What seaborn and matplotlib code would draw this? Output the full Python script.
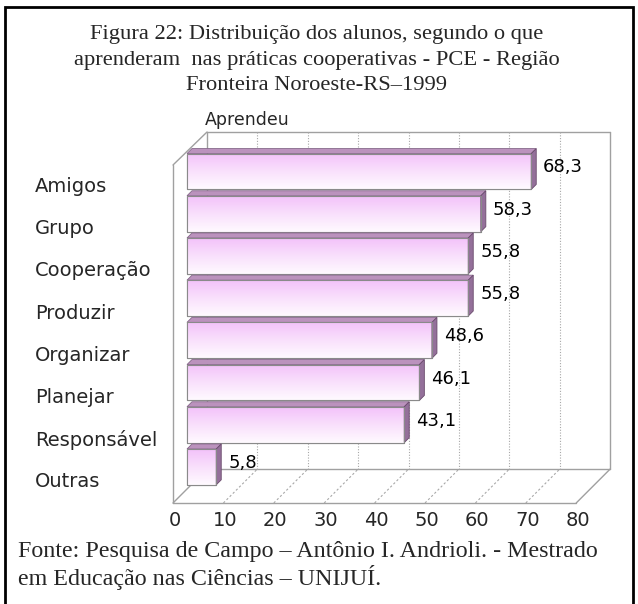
import seaborn as sns
import matplotlib.pyplot as plt
import numpy as np
from matplotlib.patches import Polygon, Rectangle
from matplotlib.colors import LinearSegmentedColormap

# Data
categories = ['Amigos', 'Grupo', 'Cooperação', 'Produzir',
              'Organizar', 'Planejar', 'Responsável', 'Outras']
values = [68.3, 58.3, 55.8, 55.8, 48.6, 46.1, 43.1, 5.8]
value_labels = ['68,3', '58,3', '55,8', '55,8', '48,6', '46,1', '43,1', '5,8']
ticks = [0, 10, 20, 30, 40, 50, 60, 70, 80]

title_lines = ['Figura 22: Distribuição dos alunos, segundo o que',
               'aprenderam  nas práticas cooperativas - PCE - Região',
               'Fronteira Noroeste-RS\u20131999']
footer_lines = ['Fonte: Pesquisa de Campo \u2013 Antônio I. Andrioli. - Mestrado',
                'em Educação nas Ciências \u2013 UNIJUÍ.']

W, H = 638, 604
sns.set_style('white')
plt.rcParams['font.family'] = ['DejaVu Sans']

fig = plt.figure(figsize=(W / 100, H / 100), dpi=100)
ax = fig.add_axes([0, 0, 1, 1])

# pixel <-> data mapping (bar front plane: 0 at px 187, 5.04 px per unit, 42.2 px per bar)
X0, SX = 187.0, 5.04
Y0, SY = 171.5, 42.2


def px2x(p):
    return (p - X0) / SX


def px2y(p):
    return (p - Y0) / SY


# plane offsets (in data units)
front_dx = -14 / SX
back_dx = 20 / SX
floor_front = px2y(503)
floor_back = px2y(469)
top_front = px2y(165)
top_back = px2y(132)

wall = '#a0a0a0'
grid = '#a8a8a8'

# box: back wall, left wall, floor
box_lines = [
    ((back_dx, back_dx + 80), (top_back, top_back)),
    ((back_dx + 80, back_dx + 80), (top_back, floor_back)),
    ((back_dx, back_dx + 80), (floor_back, floor_back)),
    ((back_dx, back_dx), (top_back, floor_back)),
    ((front_dx, front_dx), (top_front, floor_front)),
    ((front_dx, back_dx), (top_front, top_back)),
    ((front_dx, back_dx), (floor_front, floor_back)),
    ((front_dx, front_dx + 80), (floor_front, floor_front)),
    ((front_dx + 80, back_dx + 80), (floor_front, floor_back)),
]
for xs, ys in box_lines:
    ax.plot(xs, ys, color=wall, lw=1, zorder=1)

for t in ticks[1:-1]:
    ax.plot([t + back_dx] * 2, [top_back, floor_back], color=grid, lw=0.8,
            ls=(0, (1, 1.5)), zorder=1)
    ax.plot([t + front_dx, t + back_dx], [floor_front, floor_back], color=grid,
            lw=0.8, ls=(0, (2, 2)), zorder=1)

# bars (front faces)
sns.barplot(x=values, y=categories, orient='h', width=0.85, color='#f6d0f8',
            edgecolor='#8a8a8a', linewidth=0.8, ax=ax, zorder=3)

grad_cmap = LinearSegmentedColormap.from_list(
    'pinkgrad', ['#f3c2fa', '#f9e0fc', '#fffaff'])
grad = np.linspace(0, 1, 64).reshape(-1, 1)
ddx, ddy = 5 / SX, 5 / SY

for i, patch in enumerate(ax.patches[:len(values)]):
    x0 = patch.get_x()
    x1 = x0 + patch.get_width()
    ya = patch.get_y()
    yb = ya + patch.get_height()
    ytop, ybot = min(ya, yb), max(ya, yb)
    im = ax.imshow(grad, extent=(x0, x1, ybot, ytop), aspect='auto',
                   cmap=grad_cmap, origin='upper', zorder=3.5)
    im.set_clip_path(patch)
    top = Polygon([(x0, ytop), (x1, ytop), (x1 + ddx, ytop - ddy), (x0 + ddx, ytop - ddy)],
                  closed=True, facecolor='#bb92bd', edgecolor='#85688a', lw=0.6, zorder=4)
    side = Polygon([(x1, ytop), (x1 + ddx, ytop - ddy), (x1 + ddx, ybot - ddy), (x1, ybot)],
                   closed=True, facecolor='#94709a', edgecolor='#6a4a6c', lw=0.6, zorder=4)
    ax.add_patch(top)
    ax.add_patch(side)
    edge = Rectangle((x0, ytop), x1 - x0, ybot - ytop, fill=False,
                     edgecolor='#8a8a8a', lw=0.8, zorder=4)
    ax.add_patch(edge)
    ax.text(values[i] + 12 / SX, i - 4 / SY, value_labels[i], fontsize=13,
            ha='left', va='center', color='black', zorder=5)

# category labels
for i, c in enumerate(categories):
    ax.text(px2x(35), i + 15 / SY, c, fontsize=14, ha='left', va='center')

# tick labels on the front floor edge
for t in ticks:
    ax.text(t + front_dx + 1.5 / SX, px2y(521), str(t), fontsize=14,
            ha='center', va='center')

ax.text(px2x(205), px2y(120), 'Aprendeu', fontsize=12.5, ha='left', va='center')

ax.set_xlim(px2x(0), px2x(W))
ax.set_ylim(px2y(H), px2y(0))
ax.axis('off')

# titles and source
for k, line in enumerate(title_lines):
    fig.text(317 / W, 1 - (35 + 25 * k) / H, line, fontsize=16.2,
             family='Liberation Serif', ha='center', va='center')
for k, line in enumerate(footer_lines):
    fig.text(18 / W, 1 - (552 + 26 * k) / H, line, fontsize=17.3,
             family='Liberation Serif', ha='left', va='center')

# outer frame
fig.add_artist(Rectangle((5 / W, -0.05), 628 / W, 1.05 - 7 / H, fill=False,
                         edgecolor='black', lw=2, transform=fig.transFigure))

fig.savefig('out.png', dpi=100)
